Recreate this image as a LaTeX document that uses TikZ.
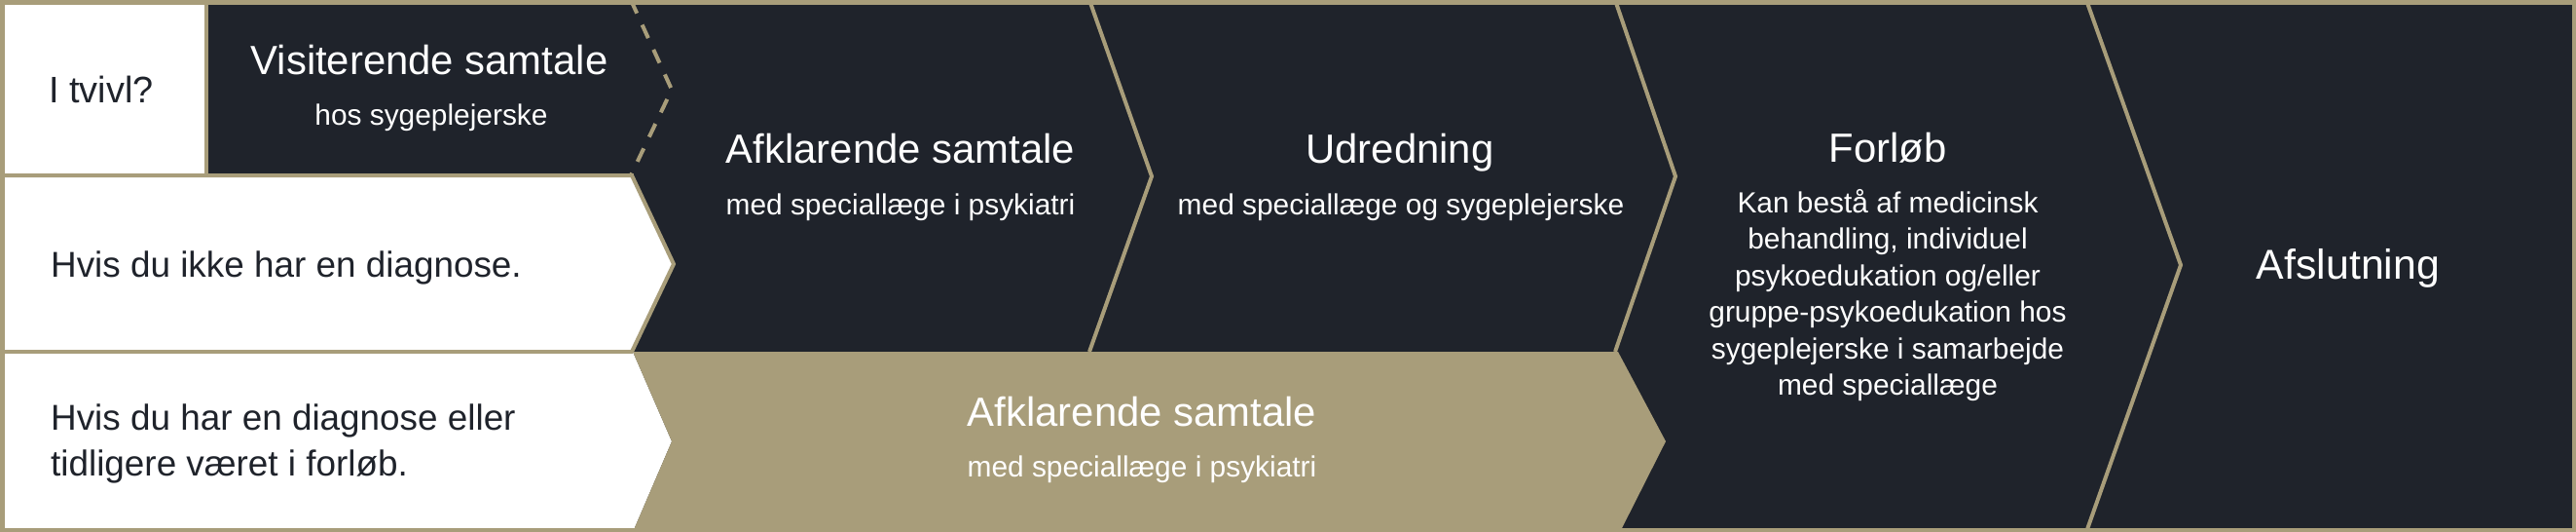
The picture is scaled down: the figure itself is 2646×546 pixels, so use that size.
\documentclass[tikz,border=0pt]{standalone}
\usepackage{fontspec}
\setmainfont{Liberation Sans}
\usepackage{tikz}
\definecolor{ink}{RGB}{31,35,43}
\definecolor{sand}{RGB}{168,157,122}

\begin{document}
\begin{tikzpicture}[
  head/.style={anchor=base,text=white,inner sep=0pt,font=\fontsize{42}{50}\selectfont},
  sub/.style={anchor=base,text=white,inner sep=0pt,font=\fontsize{30}{37.6}\selectfont,align=center},
  lbl/.style={anchor=base west,text=ink,inner sep=0pt,font=\fontsize{37}{46.7}\selectfont,align=left},
  rule/.style={draw=sand,line width=4bp}]
\useasboundingbox (0bp,0bp) rectangle (2646bp,-546bp);
\fill[ink] (0bp,0bp) rectangle (2646bp,-546bp);
\fill[white] (0bp,0bp) rectangle (212bp,-180bp);
\fill[white] (0bp,-180bp) -- (649bp,-180bp) -- (692bp,-271bp) -- (649bp,-361bp) -- (0bp,-361bp) -- cycle;
\fill[white] (0bp,-361bp) -- (650bp,-361bp) -- (690bp,-453bp) -- (650bp,-546bp) -- (0bp,-546bp) -- cycle;
\fill[sand] (650bp,-361bp) -- (1662bp,-361bp) -- (1711bp,-453bp) -- (1664bp,-546bp) -- (650bp,-546bp) -- (690bp,-453bp) -- cycle;
\draw[rule] (212bp,0bp) -- (212bp,-180bp);
\draw[rule] (0bp,-180bp) -- (649bp,-180bp) -- (692bp,-271bp) -- (649bp,-361bp);
\draw[rule] (0bp,-361bp) -- (650bp,-361bp);
\draw[rule,dash pattern=on 15bp off 13bp] (648bp,0bp) -- (690bp,-92bp) -- (648bp,-180bp);
\draw[rule] (1119bp,0bp) -- (1183bp,-181bp) -- (1119bp,-361bp);
\draw[rule] (1659bp,0bp) -- (1721bp,-181bp) -- (1659bp,-361bp);
\draw[rule] (2143bp,0bp) -- (2240bp,-272bp) -- (2143bp,-546bp);
\draw[sand,line width=4.5bp] (2.25bp,-2.25bp) rectangle (2643.75bp,-543.75bp);

\node (L1) at (104bp,-105bp)[anchor=base,text=ink,inner sep=0pt,font=\fontsize{38}{46.7}\selectfont] {I tvivl?};
\node (L2) at (52bp,-284bp)[lbl] {Hvis du ikke har en diagnose.};
\node (L3) at (52bp,-488bp)[lbl] {Hvis du har en diagnose eller\\tidligere været i forløb.};

\node (S1) at (441bp,-76bp)[head] {Visiterende samtale};
\node (S1b) at (443bp,-128bp)[sub] {hos sygeplejerske};
\node (S2) at (925bp,-167bp)[head] {Afklarende samtale};
\node (S2b) at (925bp,-220bp)[sub] {med speciallæge i psykiatri};
\node (S3) at (1438bp,-167bp)[head] {Udredning};
\node (S3b) at (1439bp,-220bp)[sub] {med speciallæge og sygeplejerske};
\node (S4) at (1939bp,-166.7bp)[head] {Forløb};
\node (S4b) at (1939bp,-405.6bp)[sub] {Kan bestå af medicinsk\\behandling, individuel\\psykoedukation og/eller\\gruppe-psykoedukation hos\\sygeplejerske i samarbejde\\med speciallæge};
\node (S5) at (2412bp,-286bp)[head,font=\fontsize{43}{51}\selectfont] {Afslutning};
\node (S6) at (1173bp,-437.3bp)[head] {Afklarende samtale};
\node (S6b) at (1173bp,-489.3bp)[sub] {med speciallæge i psykiatri};
\end{tikzpicture}
\end{document}
